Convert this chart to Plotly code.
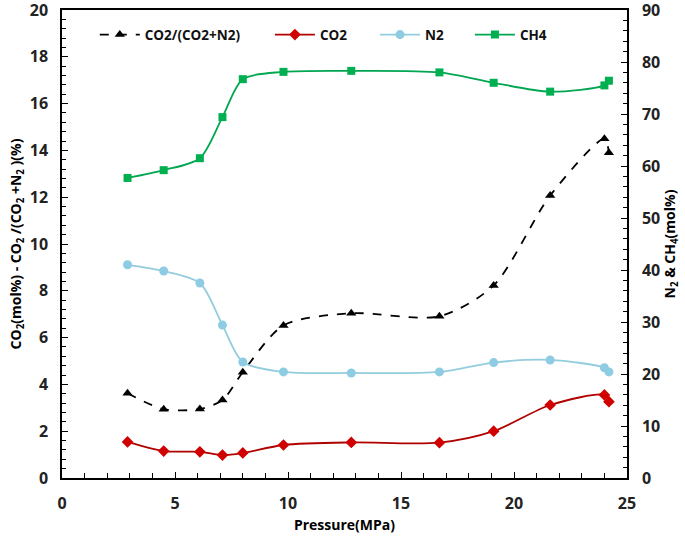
import plotly.graph_objects as go

pressure = [2.9, 4.5, 6.1, 7.1, 8.0, 9.8, 12.8, 16.7, 19.1, 21.6, 24.0, 24.2]
ratio = [3.62, 2.94, 2.95, 3.33, 4.52, 6.52, 7.04, 6.91, 8.23, 12.07, 14.5, 13.9]
co2 = [1.54, 1.15, 1.12, 0.98, 1.07, 1.41, 1.52, 1.51, 2.0, 3.12, 3.55, 3.26]
n2 = [41.0, 39.8, 37.5, 29.4, 22.3, 20.4, 20.2, 20.4, 22.2, 22.7, 21.2, 20.4]
ch4 = [57.7, 59.2, 61.5, 69.4, 76.7, 78.1, 78.3, 78.0, 76.0, 74.3, 75.5, 76.4]

FONT = "Open Sans"

fig = go.Figure()
fig.add_trace(go.Scatter(
    x=pressure, y=ratio, name="CO2/(CO2+N2)", mode="lines+markers", legend="legend",
    line=dict(color="black", dash="dash", width=1.8, shape="spline", smoothing=0.8),
    marker=dict(symbol="triangle-up", size=9, color="black")))
fig.add_trace(go.Scatter(
    x=pressure, y=co2, name="CO2", mode="lines+markers", legend="legend2",
    line=dict(color="#B00000", width=1.8, shape="spline", smoothing=0.8),
    marker=dict(symbol="diamond", size=9, color="#D00000")))
fig.add_trace(go.Scatter(
    x=pressure, y=n2, name="N2", mode="lines+markers", yaxis="y2", legend="legend3",
    line=dict(color="#93CDDD", width=1.8, shape="spline", smoothing=0.8),
    marker=dict(symbol="circle", size=9, color="#8DCCE3")))
fig.add_trace(go.Scatter(
    x=pressure, y=ch4, name="CH4", mode="lines+markers", yaxis="y2", legend="legend4",
    line=dict(color="#00A650", width=1.8, shape="spline", smoothing=0.8),
    marker=dict(symbol="square", size=8, color="#00B050")))

tickfont = dict(family=FONT, size=16, color="#222", weight="bold")
axis_common = dict(showline=True, linecolor="black", linewidth=1.5, ticks="inside",
                   ticklen=6, tickcolor="black", showgrid=False, zeroline=False,
                   tickfont=tickfont, automargin=False, ticklabeloverflow="allow")

def leg(x):
    return dict(x=x, y=0.947, xanchor="left", yanchor="middle", orientation="h",
                font=dict(family=FONT, size=13.5, color="#111", weight="bold"),
                bgcolor="rgba(0,0,0,0)", itemwidth=40)

fig.update_layout(
    width=685, height=546,
    margin=dict(l=62, r=58, t=10, b=68),
    paper_bgcolor="white", plot_bgcolor="white",
    font=dict(family=FONT, color="black"),
    showlegend=True,
    legend=leg(0.058), legend2=leg(0.368), legend3=leg(0.554), legend4=leg(0.722),
    xaxis=dict(range=[0, 25], dtick=5, mirror=True, ticklabelstandoff=10,
               minor=dict(dtick=1, ticks="inside", ticklen=5, tickcolor="black"),
               title=dict(text="<b>Pressure(MPa)</b>", font=dict(family=FONT, size=14), standoff=7),
               **axis_common),
    yaxis=dict(range=[0, 20], dtick=2, ticklabelstandoff=9,
               minor=dict(dtick=0.4, ticks="inside", ticklen=4, tickcolor="black"),
               title=dict(text="<b>CO<sub>2</sub>(mol%) - CO<sub>2</sub> /(CO<sub>2</sub> +N<sub>2</sub> )(%)</b>",
                          font=dict(family=FONT, size=14), standoff=5),
               **axis_common),
    yaxis2=dict(range=[0, 90], dtick=10, overlaying="y", side="right", ticklabelstandoff=10,
                minor=dict(dtick=2, ticks="inside", ticklen=4, tickcolor="black"),
                title=dict(text="<b>N<sub>2</sub> & CH<sub>4</sub>(mol%)</b>",
                           font=dict(family=FONT, size=14), standoff=0),
                **axis_common),
)

fig.write_html("out.html", config={"displayModeBar": False},
               post_script="document.body.style.margin='0';")
